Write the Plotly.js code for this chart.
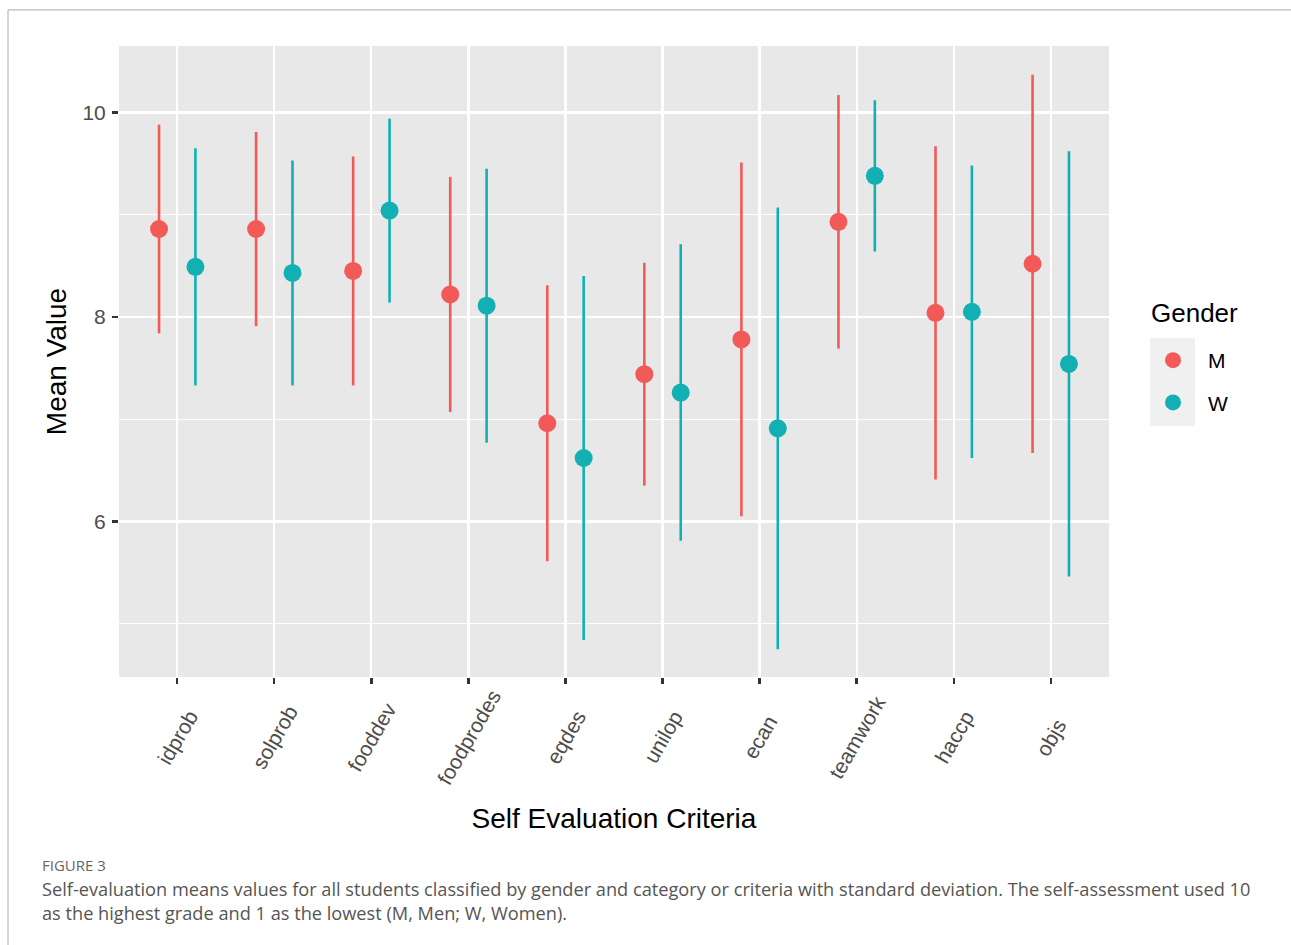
<!DOCTYPE html>
<html>
<head>
<meta charset="utf-8">
<script src="https://cdn.plot.ly/plotly-3.0.1.min.js"></script>
<style>html,body{margin:0;padding:0;background:#fff;}#chart{width:1291px;height:945px;}</style>
</head>
<body>
<div id="chart"></div>
<script>
const categories = ['idprob','solprob','fooddev','foodprodes','eqdes','unilop','ecan','teamwork','haccp','objs'];
const menMean   = [8.86, 8.86, 8.45, 8.22, 6.96, 7.44, 7.78, 8.93, 8.04, 8.52];
const menSD     = [1.02, 0.95, 1.12, 1.15, 1.35, 1.09, 1.73, 1.24, 1.63, 1.85];
const womenMean = [8.49, 8.43, 9.04, 8.11, 6.62, 7.26, 6.91, 9.38, 8.05, 7.54];
const womenSD   = [1.16, 1.10, 0.90, 1.34, 1.78, 1.45, 2.16, 0.74, 1.43, 2.08];
const yTicks = [6, 8, 10];

const colM = '#F15A56';
const colW = '#12B0B3';

const traces = [
  {type:'scatter', mode:'markers', name:'M', x:categories, y:menMean, legendgroup:'M',
   marker:{color:colM, size:18},
   error_y:{type:'data', array:menSD, visible:true, color:colM, thickness:2.6, width:0}},
  {type:'scatter', mode:'markers', name:'W', x:categories, y:womenMean, legendgroup:'W',
   marker:{color:colW, size:18},
   error_y:{type:'data', array:womenSD, visible:true, color:colW, thickness:2.6, width:0}}
];

const F = 'Liberation Sans, Arial, sans-serif';
const CF = 'Open Sans, sans-serif';

// rotated category labels, centred below each tick (ggplot angle=60, hjust=0.5)
const tickLabelAnns = categories.map(c => ({
  xref:'x', yref:'paper', x:c, y:-0.0951, xanchor:'center', yanchor:'middle',
  showarrow:false, textangle:-60, text:c, font:{family:F, size:21, color:'#4D4D4D'}
}));

const layout = {
  width:1291, height:945,
  margin:{l:119, r:182, t:46, b:268},
  paper_bgcolor:'#ffffff', plot_bgcolor:'#E8E8E8',
  scattermode:'group', scattergap:0.25,
  showlegend:true,
  xaxis:{type:'category', range:[-0.6, 9.6], showgrid:true, gridcolor:'#ffffff', gridwidth:2.2,
    zeroline:false, showline:false, ticks:'outside', ticklen:6, tickwidth:2.4, tickcolor:'#333333',
    showticklabels:false,
    title:{text:'Self Evaluation Criteria', font:{family:F, size:28, color:'#000'}, standoff:125}},
  yaxis:{range:[4.478, 10.65], tickvals:yTicks, ticktext:yTicks.map(String), showgrid:true, gridcolor:'#ffffff', gridwidth:2.2,
    zeroline:false, showline:false, ticks:'outside', ticklen:6, tickwidth:2.4, tickcolor:'#333333',
    tickfont:{family:F, size:21, color:'#4D4D4D'}, ticklabelstandoff:2,
    minor:{tickvals:[5,7,9], showgrid:true, gridcolor:'#ffffff', gridwidth:1.1, ticks:''},
    title:{text:'Mean Value', font:{family:F, size:28, color:'#000'}, standoff:7}},
  legend:{x:1.0293, xanchor:'left', y:0.5341, yanchor:'top', bgcolor:'rgba(0,0,0,0)',
    font:{family:F, size:21, color:'#000'}, tracegroupgap:12, itemwidth:60},
  shapes:[
    {type:'rect', xref:'paper', yref:'paper', x0:1.0414, x1:1.0869, y0:0.3978, y1:0.5372,
     fillcolor:'#F0F0F0', line:{width:0}, layer:'below'},
    {type:'line', xref:'paper', yref:'paper', x0:-0.1121, x1:-0.1121, y0:-0.43, y1:1.0571, line:{color:'#BBBBBB', width:1.2}},
    {type:'line', xref:'paper', yref:'paper', x0:-0.1121, x1:1.19, y0:1.0571, y1:1.0571, line:{color:'#BBBBBB', width:1.2}}
  ],
  annotations: tickLabelAnns.concat([
    {xref:'paper', yref:'paper', x:1.0404, y:0.5769, xanchor:'left', yanchor:'middle', showarrow:false,
     text:'Gender', font:{family:F, size:26, color:'#000'}},
    {xref:'paper', yref:'paper', x:-0.0798, y:-0.2979, xanchor:'left', yanchor:'middle', showarrow:false,
     text:'FIGURE 3', font:{family:CF, size:15, color:'#666666'}},
    {xref:'paper', yref:'paper', x:-0.0798, y:-0.3360, xanchor:'left', yanchor:'middle', showarrow:false,
     text:'Self-evaluation means values for all students classified by gender and category or criteria with standard deviation. The self-assessment used 10',
     font:{family:CF, size:18.2, color:'#555555'}},
    {xref:'paper', yref:'paper', x:-0.0798, y:-0.3740, xanchor:'left', yanchor:'middle', showarrow:false,
     text:'as the highest grade and 1 as the lowest (M, Men; W, Women).',
     font:{family:CF, size:18.2, color:'#555555'}}
  ])
};

Plotly.newPlot('chart', traces, layout, {displayModeBar:false, staticPlot:true});
</script>
</body>
</html>
